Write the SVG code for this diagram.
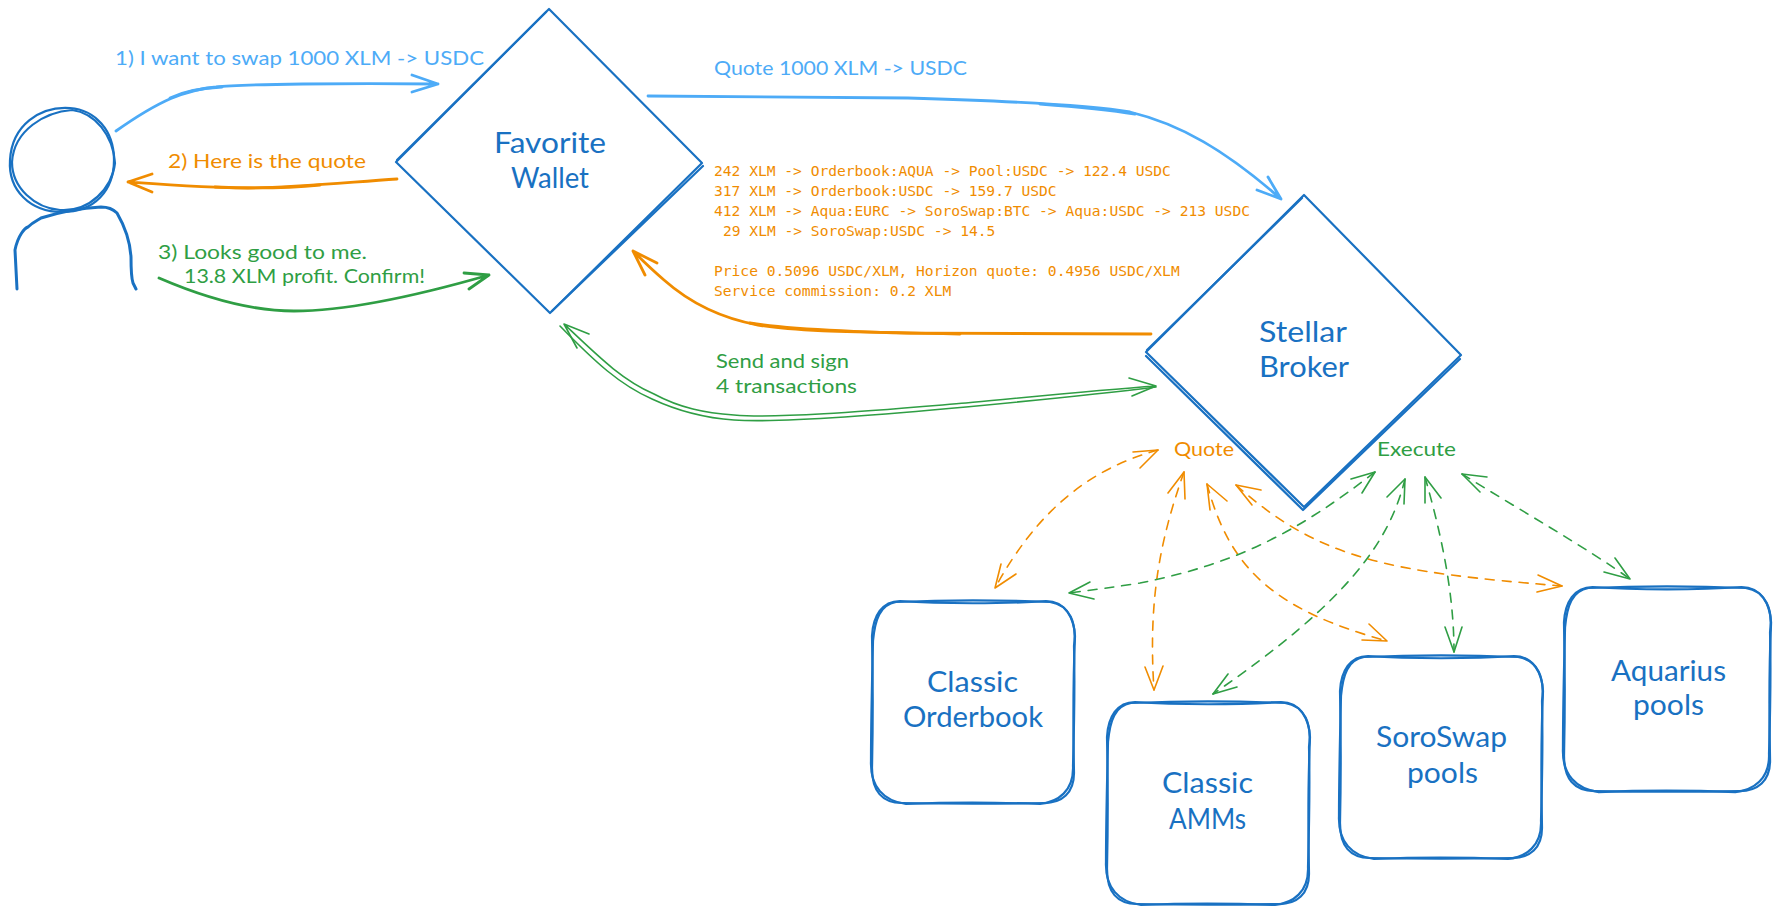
<svg xmlns="http://www.w3.org/2000/svg" width="1780" height="913" viewBox="0 0 1780 913">
<style>
.n{fill:none;stroke:#1971c2;stroke-width:2.2;stroke-linecap:round;stroke-linejoin:round;vector-effect:non-scaling-stroke}
.t{fill:#1971c2;font-family:"Lato","Noto Sans",sans-serif;font-size:28px}
.l{font-family:"Lato","Noto Sans",sans-serif;font-size:20px}
.c{fill:none;stroke-linecap:round;stroke-linejoin:round}
.blue{stroke:#4dabf7;stroke-width:2.8}
.org{stroke:#f08c00;stroke-width:2.8}
.grn{stroke:#2f9e44;stroke-width:2.8}
.thin{stroke-width:1.6}
.d{stroke-width:1.6;stroke-dasharray:9 8}
.fb{fill:#4dabf7}.fo{fill:#f08c00}.fg{fill:#2f9e44}
.m{font-family:"DejaVu Sans Mono",monospace;font-size:14.6px;fill:#f08c00;white-space:pre}
</style>
<defs>
<path id="b1" d="M28 0C70 3 132 3 174 0C194 0 202 18 203 35C201 80 201 122 202 172C202 192 190 202 172 202C122 203 80 203 30 202C10 202 0 190 0 167C1 122 1 80 0 35C1 15 10 0 28 0Z"/>
<path id="b2" d="M24 1C70 -1 132 -1 178 1C198 4 205 22 202 45C203 85 202 130 201 165C202 190 186 201 168 203C120 201 80 201 34 203C12 200 -2 186 -1 160C-1 120 0 80 1 40C3 18 8 4 24 1Z"/>
</defs>
<rect width="1780" height="913" fill="#ffffff"/>
<g id="connectors">
<path class="c blue" d="M116 131C160 100 185 90 216 87C240 84 350 83 438 84M412 75L438 84L412 92"/>
<path class="c blue" d="M170 98C185 91 200 88 222 87"/>
<path class="c org" d="M397 179C340 183 290 188 248 188C210 188 170 185 128 182M152 174L128 182L152 192"/>
<path class="c org" d="M320 185C290 188 260 189 215 187"/>
<path class="c grn" d="M159 278C210 300 255 311 294 311C350 311 430 292 489 275M464 273L489 275L469 289"/>
<path class="c blue" d="M648 96C760 97 840 97 908 98C1010 101 1090 105 1130 112C1180 124 1225 150 1281 199M1268 177L1281 199L1257 190"/>
<path class="c blue" d="M1040 104C1080 107 1110 110 1135 114"/>
<path class="c org" d="M1151 334C1050 334 980 334 908 333C850 332 790 331 758 325C720 318 690 303 664 280C650 268 640 258 633 251M657 263L633 251L645 275"/>
<path class="c org" d="M960 334C880 333 800 331 750 323"/>
<path class="c grn thin" d="M564 324C600 358 622 380 654 394C680 408 705 413 734 415C780 419 880 410 966 403C1040 396 1100 390 1156 386M589 334L564 324L577 348M1129 378L1156 386L1132 396"/>
<path class="c grn thin" d="M560 326C595 362 620 385 652 399C680 412 705 418 734 420C780 423 880 415 966 407C1040 400 1100 394 1156 387"/>
<g>
<path class="c org d" d="M1158 450C1085 470 1035 515 995 588"/>
<path class="c org thin" d="M1133 452L1158 450L1140 468M1001 564L995 588L1016 574"/>
<path class="c org d" d="M1184 472C1160 540 1148 600 1154 690"/>
<path class="c org thin" d="M1168 493L1184 472L1185 499M1145 667L1154 690L1163 666"/>
<path class="c org d" d="M1207 484C1230 570 1275 610 1387 641"/>
<path class="c org thin" d="M1210 510L1207 484L1227 501M1369 624L1387 641L1362 640"/>
<path class="c org d" d="M1236 485C1320 560 1390 572 1562 586"/>
<path class="c org thin" d="M1261 490L1236 485L1252 505M1538 575L1562 586L1537 592"/>
<path class="c grn d" d="M1375 472C1300 530 1240 563 1140 583C1115 587 1092 590 1069 593"/>
<path class="c grn thin" d="M1351 479L1375 472L1362 493M1090 582L1069 593L1094 599"/>
<path class="c grn d" d="M1405 479C1390 540 1350 600 1213 694"/>
<path class="c grn thin" d="M1387 497L1405 479L1404 504M1228 674L1213 694L1237 687"/>
<path class="c grn d" d="M1425 477C1440 530 1454 590 1454 652"/>
<path class="c grn thin" d="M1425 503L1425 477L1441 498M1445 627L1454 652L1462 627"/>
<path class="c grn d" d="M1462 474C1520 510 1590 550 1630 579"/>
<path class="c grn thin" d="M1487 477L1462 474L1480 492M1615 558L1630 579L1604 572"/>
</g>
</g>
<g id="person">
<path class="n" d="M70 108C40 106 12 125 10 160C8 190 30 212 62 212C95 212 114 190 114 160C114 130 95 110 70 108Z"/>
<path class="n" d="M72 110C45 112 14 130 12 162C12 188 35 208 60 210C90 212 112 188 115 163C113 135 95 113 72 110"/>
<path class="n" style="stroke-width:3" d="M17 289L15 250C18 235 25 228 28 227C33 222 38 220 41 218C60 212 80 208 101 207C108 207 113 209 117 213C124 225 130 240 131 257C131 270 132 280 133 283L136 289"/>
</g>
<g id="favorite-wallet">
<path class="n" d="M549 9L702 163L550 313L396 162Z"/>
<path class="n" d="M546 12L397 160M703 166L552 311"/>
<text class="t" x="494" y="153" textLength="112" lengthAdjust="spacingAndGlyphs">Favorite</text>
<text class="t" x="511" y="188" textLength="78" lengthAdjust="spacingAndGlyphs">Wallet</text>
</g>
<g id="stellar-broker">
<path class="n" d="M1304 195L1461 355L1304 507L1146 352Z"/>
<path class="n" d="M1302 198L1147 350M1146 356L1303 510L1460 359"/>
<text class="t" x="1259" y="342" textLength="88" lengthAdjust="spacingAndGlyphs">Stellar</text>
<text class="t" x="1259" y="377" textLength="90" lengthAdjust="spacingAndGlyphs">Broker</text>
</g>
<g id="classic-orderbook">
<use href="#b1" class="n" transform="translate(872 601)"/>
<use href="#b2" class="n" transform="translate(872 601)"/>
<text class="t" x="927" y="692" textLength="91" lengthAdjust="spacingAndGlyphs">Classic</text>
<text class="t" x="903" y="727" textLength="140" lengthAdjust="spacingAndGlyphs">Orderbook</text>
</g>
<g id="classic-amms">
<use href="#b1" class="n" transform="translate(1107 702)"/>
<use href="#b2" class="n" transform="translate(1107 702)"/>
<text class="t" x="1162" y="793" textLength="91" lengthAdjust="spacingAndGlyphs">Classic</text>
<text class="t" x="1169" y="829" textLength="77" lengthAdjust="spacingAndGlyphs">AMMs</text>
</g>
<g id="soroswap-pools">
<use href="#b1" class="n" transform="translate(1340 656)"/>
<use href="#b2" class="n" transform="translate(1340 656)"/>
<text class="t" x="1376" y="747" textLength="131" lengthAdjust="spacingAndGlyphs">SoroSwap</text>
<text class="t" x="1407" y="783" textLength="71" lengthAdjust="spacingAndGlyphs">pools</text>
</g>
<g id="aquarius-pools">
<use href="#b1" class="n" transform="translate(1564 587) scale(1.02 1.01)"/>
<use href="#b2" class="n" transform="translate(1564 587) scale(1.02 1.01)"/>
<text class="t" x="1611" y="681" textLength="115" lengthAdjust="spacingAndGlyphs">Aquarius</text>
<text class="t" x="1633" y="715" textLength="71" lengthAdjust="spacingAndGlyphs">pools</text>
</g>
<g id="labels">
<text class="l fb" x="115" y="65" textLength="369" lengthAdjust="spacingAndGlyphs">1) I want to swap 1000 XLM -&gt; USDC</text>
<text class="l fb" x="714" y="75" textLength="253" lengthAdjust="spacingAndGlyphs">Quote 1000 XLM -&gt; USDC</text>
<text class="l fo" x="168" y="168" textLength="198" lengthAdjust="spacingAndGlyphs">2) Here is the quote</text>
<text class="l fg" x="158" y="259" textLength="209" lengthAdjust="spacingAndGlyphs">3) Looks good to me.</text>
<text class="l fg" x="184" y="283" textLength="241" lengthAdjust="spacingAndGlyphs">13.8 XLM profit. Confirm!</text>
<text class="m" x="714" y="176">242 XLM -&gt; Orderbook:AQUA -&gt; Pool:USDC -&gt; 122.4 USDC</text>
<text class="m" x="714" y="196">317 XLM -&gt; Orderbook:USDC -&gt; 159.7 USDC</text>
<text class="m" x="714" y="216">412 XLM -&gt; Aqua:EURC -&gt; SoroSwap:BTC -&gt; Aqua:USDC -&gt; 213 USDC</text>
<text class="m" x="723" y="236">29 XLM -&gt; SoroSwap:USDC -&gt; 14.5</text>
<text class="m" x="714" y="276">Price 0.5096 USDC/XLM, Horizon quote: 0.4956 USDC/XLM</text>
<text class="m" x="714" y="296">Service commission: 0.2 XLM</text>
<text class="l fg" x="716" y="368" textLength="133" lengthAdjust="spacingAndGlyphs">Send and sign</text>
<text class="l fg" x="716" y="393" textLength="141" lengthAdjust="spacingAndGlyphs">4 transactions</text>
<text class="l fo" x="1174" y="456" textLength="60" lengthAdjust="spacingAndGlyphs">Quote</text>
<text class="l fg" x="1377" y="456" textLength="79" lengthAdjust="spacingAndGlyphs">Execute</text>
</g>
</svg>
